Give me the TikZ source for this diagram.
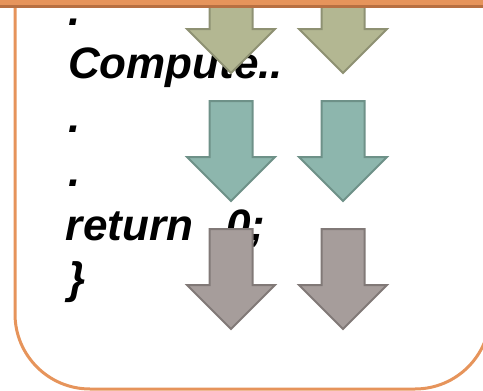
\documentclass[tikz,border=0pt]{standalone}
\usepackage{fontspec}
\setmainfont{Liberation Sans}
\definecolor{naranja}{RGB}{230,148,91}
\definecolor{naranjaOscuro}{RGB}{184,112,66}
\definecolor{oliva}{RGB}{179,183,146}
\definecolor{olivaOscuro}{RGB}{142,145,115}
\definecolor{verde}{RGB}{141,182,173}
\definecolor{verdeOscuro}{RGB}{110,145,136}
\definecolor{gris}{RGB}{166,157,155}
\definecolor{grisOscuro}{RGB}{129,121,119}
\usetikzlibrary{positioning}
\tikzstyle{codigo}=[anchor=base west, inner sep=0pt, outer sep=0pt,
                    font=\fontsize{44}{54}\selectfont\bfseries\itshape]
\tikzstyle{flecha}=[line width=2pt, line join=miter]
\tikzstyle{marco} =[draw=naranja, line width=3pt, rounded corners=75pt]

\begin{document}
\begin{tikzpicture}[x=1pt,y=-1pt]
    \clip (0,0) rectangle (483,391);

    % code lines
    \node[codigo] (punto1)  at (68,25)  {.};
    \node[codigo] (compute) at (68,78)  {Compute..};
    \node[codigo] (punto2)  at (68,132) {.};
    \node[codigo] (punto3)  at (68,186) {.};
    \node[codigo] (ret)     at (66,240) {return\hspace{0.75em}0;};
    \node[codigo] (llave)   at (68,293) {\}};

    % block arrows, two columns per row
    \foreach \t/\col/\borde in {-27/oliva/olivaOscuro,101/verde/verdeOscuro,229/gris/grisOscuro}
        \foreach \c in {231,343}
            \draw[flecha,fill=\col,draw=\borde]
                ({\c-21.5},\t) -- ({\c+21.5},\t) -- ({\c+21.5},{\t+56})
                -- ({\c+44},{\t+56}) -- (\c,{\t+100}) -- ({\c-44},{\t+56})
                -- ({\c-21.5},{\t+56}) -- cycle;

    % frame and top bar
    \draw[marco] (15,-40) -- (15,389) -- (490,389) -- (490,-40);
    \fill[naranja] (0,-5) rectangle (483,5);
    \fill[naranjaOscuro] (0,5) rectangle (483,8);
\end{tikzpicture}
\end{document}
